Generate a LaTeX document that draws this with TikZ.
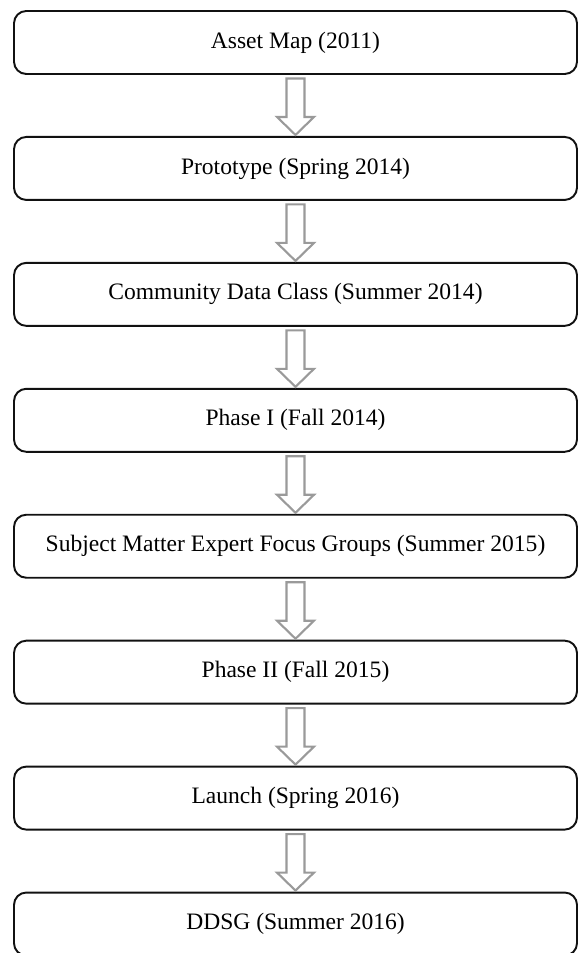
\documentclass[tikz,border=0pt]{standalone}
\usepackage{fontspec}
\setmainfont{Liberation Serif}
\usetikzlibrary{positioning, calc}
\definecolor{arrgray}{HTML}{9A9A9A}
\definecolor{boxline}{HTML}{111111}

% hollow block arrow between two boxes
\newcommand{\blockarrow}[2]{%
  \draw[blockarr]
    ($(#1.south)+(-0.18,-0.07)$) -- ($(#1.south)+(0.18,-0.07)$)
    -- ($(#2.north)+(0.18,0.38)$) -- ($(#2.north)+(0.37,0.38)$)
    -- ($(#2.north)+(0,0.02)$)
    -- ($(#2.north)+(-0.37,0.38)$) -- ($(#2.north)+(-0.18,0.38)$) -- cycle;}

\begin{document}
\begin{tikzpicture}[
  node distance=1.22cm,
  stagebox/.style={
    draw=boxline, line width=1.1pt, rounded corners=7pt,
    minimum width=11.26cm, minimum height=1.26cm,
    font=\fontsize{13.4}{16}\selectfont, align=center, inner sep=3pt
  },
  blockarr/.style={draw=arrgray, line width=1.2pt, fill=white, line join=miter},
]

% Canvas
\useasboundingbox (0,0) rectangle (11.58,-19.06);

% Stages
\node[stagebox] (asset) at (5.91,-0.85) {Asset Map (2011)};
\node[stagebox, below=of asset] (proto) {Prototype (Spring 2014)};
\node[stagebox, below=of proto] (class) {Community Data Class (Summer 2014)};
\node[stagebox, below=of class] (phase1) {Phase I (Fall 2014)};
\node[stagebox, below=of phase1] (sme) {Subject Matter Expert Focus Groups (Summer 2015)};
\node[stagebox, below=of sme] (phase2) {Phase II (Fall 2015)};
\node[stagebox, below=of phase2] (launch) {Launch (Spring 2016)};
\node[stagebox, below=of launch] (ddsg) {DDSG (Summer 2016)};

% Arrows
\blockarrow{asset}{proto}
\blockarrow{proto}{class}
\blockarrow{class}{phase1}
\blockarrow{phase1}{sme}
\blockarrow{sme}{phase2}
\blockarrow{phase2}{launch}
\blockarrow{launch}{ddsg}

\end{tikzpicture}
\end{document}
